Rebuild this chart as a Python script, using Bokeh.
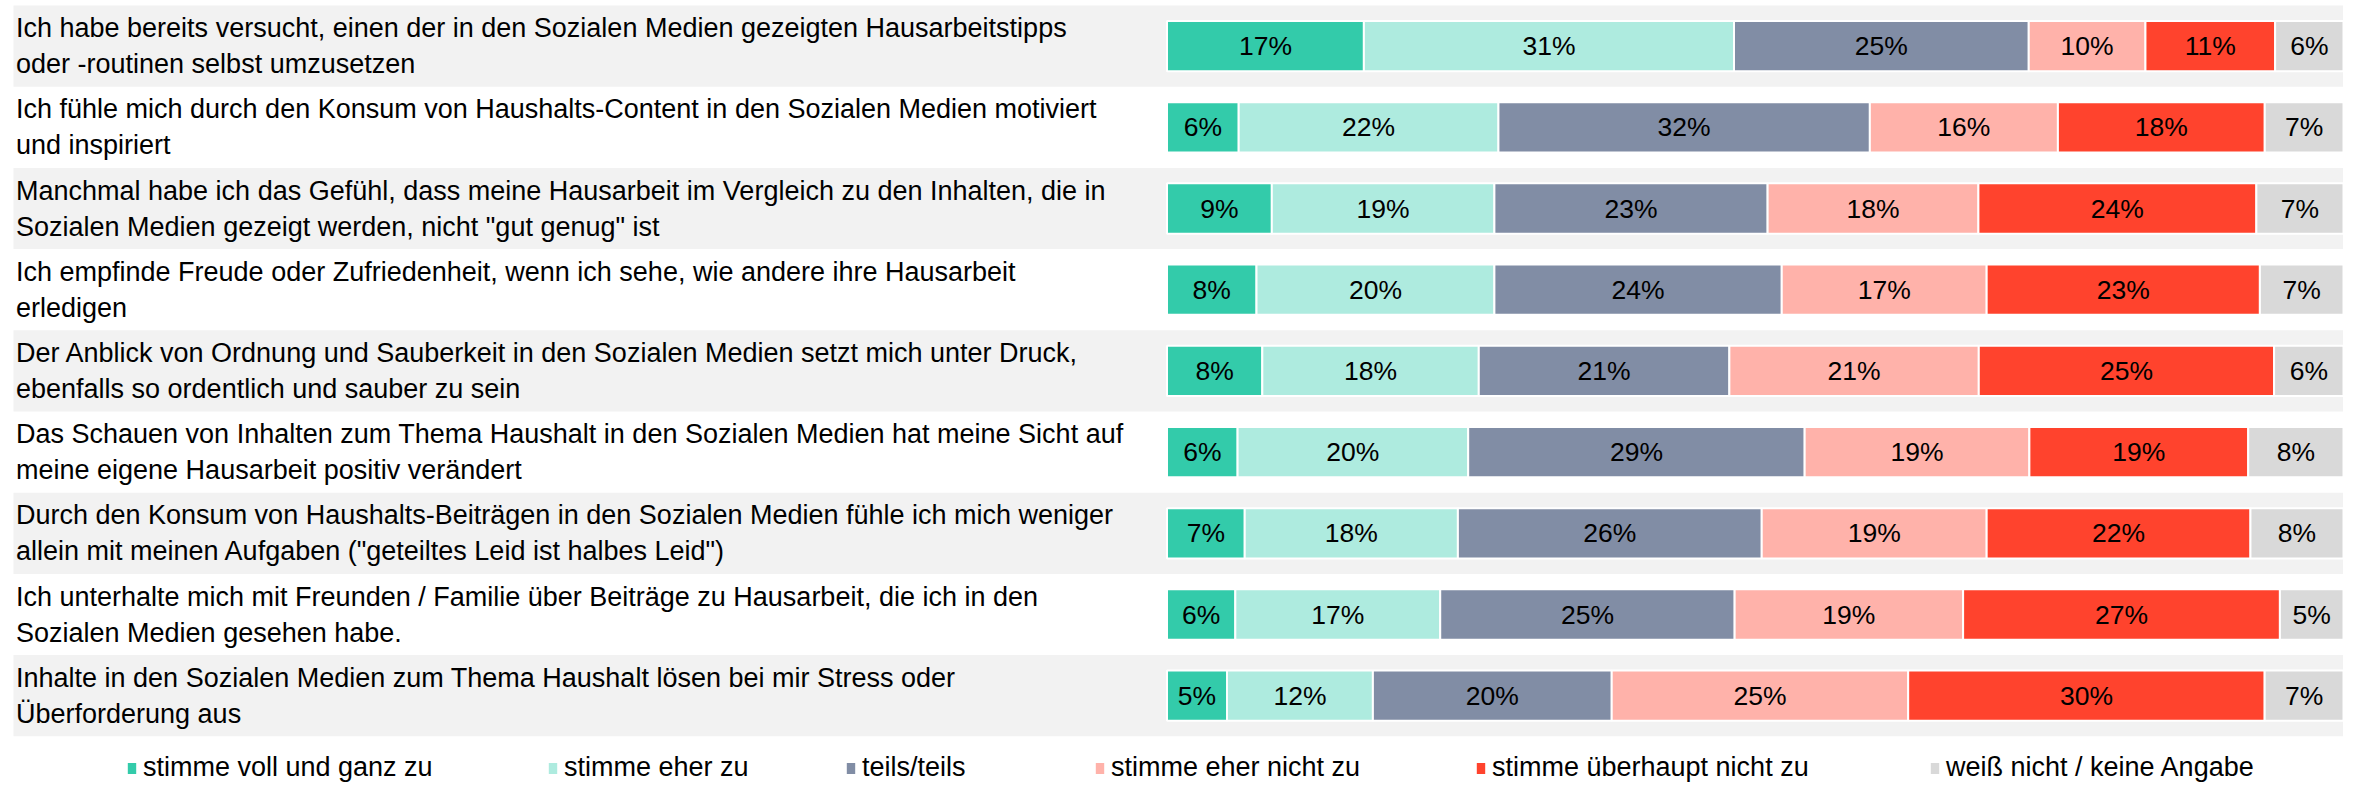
from bokeh.plotting import figure
from bokeh.models import Range1d, ColumnDataSource, Legend, LegendItem
from bokeh.embed import file_html
from bokeh.resources import INLINE
from bokeh.core.properties import value

statements = [
    "Ich habe bereits versucht, einen der in den Sozialen Medien gezeigten Hausarbeitstipps\noder -routinen selbst umzusetzen",
    "Ich fühle mich durch den Konsum von Haushalts-Content in den Sozialen Medien motiviert\nund inspiriert",
    "Manchmal habe ich das Gefühl, dass meine Hausarbeit im Vergleich zu den Inhalten, die in\nSozialen Medien gezeigt werden, nicht \"gut genug\" ist",
    "Ich empfinde Freude oder Zufriedenheit, wenn ich sehe, wie andere ihre Hausarbeit\nerledigen",
    "Der Anblick von Ordnung und Sauberkeit in den Sozialen Medien setzt mich unter Druck,\nebenfalls so ordentlich und sauber zu sein",
    "Das Schauen von Inhalten zum Thema Haushalt in den Sozialen Medien hat meine Sicht auf\nmeine eigene Hausarbeit positiv verändert",
    "Durch den Konsum von Haushalts-Beiträgen in den Sozialen Medien fühle ich mich weniger\nallein mit meinen Aufgaben (\"geteiltes Leid ist halbes Leid\")",
    "Ich unterhalte mich mit Freunden / Familie über Beiträge zu Hausarbeit, die ich in den\nSozialen Medien gesehen habe.",
    "Inhalte in den Sozialen Medien zum Thema Haushalt lösen bei mir Stress oder\nÜberforderung aus",
]

categories = [
    "stimme voll und ganz zu",
    "stimme eher zu",
    "teils/teils",
    "stimme eher nicht zu",
    "stimme überhaupt nicht zu",
    "weiß nicht / keine Angabe",
]
colors = ["#33CBAA", "#AEEBDF", "#818DA5", "#FFB2AA", "#FF432D", "#D9D9D9"]

# shares in percent, one value per statement (top to bottom)
voll = [16.7, 6.1, 8.9, 7.6, 8.1, 6.0, 6.6, 5.8, 5.1]
eher = [31.4, 22.1, 18.9, 20.2, 18.4, 19.6, 18.1, 17.4, 12.4]
teils = [25.0, 31.6, 23.2, 24.4, 21.3, 28.6, 25.8, 25.0, 20.3]
eher_nicht = [9.9, 16.0, 17.9, 17.4, 21.2, 19.1, 19.1, 19.4, 25.2]
ueberhaupt_nicht = [11.0, 17.6, 23.6, 23.2, 25.1, 18.6, 22.4, 26.9, 30.3]
weiss_nicht = [5.8, 6.7, 7.4, 7.1, 5.9, 8.1, 7.9, 5.4, 6.7]

series = [voll, eher, teils, eher_nicht, ueberhaupt_nicht, weiss_nicht]

# ---- layout parameters (pixels) ----
W, H = 2343, 782
BAR_LEFT_PX = 1166.5         # where 0 % sits
BAR_RIGHT_PX = 2343.0        # where 100 % sits
PX_PER_PCT = (BAR_RIGHT_PX - BAR_LEFT_PX) / 100.0
TOP_PX = 5.0                 # top of first row band
ROW_PX = 81.2                # row pitch
FONT = "Liberation Sans"
LABEL_SIZE = "27px"
PCT_SIZE = "26.5px"

x0 = -BAR_LEFT_PX / PX_PER_PCT
x1 = (W - BAR_LEFT_PX) / PX_PER_PCT
y_top = -0.5 - TOP_PX / ROW_PX
y_bot = y_top + H / ROW_PX

p = figure(width=W, height=H, output_backend="svg", toolbar_location=None,
           x_range=Range1d(x0, x1), y_range=Range1d(y_bot, y_top),
           min_border=0, min_border_left=0, min_border_right=0,
           min_border_top=0, min_border_bottom=0)
p.axis.visible = False
p.grid.visible = False
p.outline_line_color = None
p.background_fill_color = "white"
p.border_fill_color = "white"

n = len(statements)
rows = list(range(n))

# alternating row bands
band_left = (13 - BAR_LEFT_PX) / PX_PER_PCT
band_rows = [i for i in rows if i % 2 == 0]
p.hbar(y=band_rows, left=band_left, right=100, height=1.0,
       fill_color="#F2F2F2", line_color=None)

# statement labels
label_x = (15.5 - BAR_LEFT_PX) / PX_PER_PCT
p.text(x=[label_x] * n, y=rows, text=statements, text_align="left",
       text_baseline="middle", text_font=value(FONT), text_font_size=LABEL_SIZE,
       text_color="black", text_line_height=1.2)

# stacked bars normalised to 100 %
totals = [sum(s[i] for s in series) for i in rows]
cum = [0.0] * n
renderers = []
for j, s in enumerate(series):
    left = list(cum)
    right = [cum[i] + s[i] / totals[i] * 100 for i in rows]
    cum = right
    src = ColumnDataSource(dict(
        y=rows, left=left, right=right,
        mid=[(a + b) / 2 for a, b in zip(left, right)],
        lab=[f"{int(v + 0.5)}%" for v in s],
    ))
    r = p.hbar(y="y", left="left", right="right", height=0.62, source=src,
               fill_color=colors[j], line_color="white", line_width=2)
    renderers.append(r)
    p.text(x="mid", y="y", text="lab", source=src, text_align="center",
           text_baseline="middle", text_font=value(FONT),
           text_font_size=PCT_SIZE, text_color="black")

# legend: one entry per category, positioned along the bottom
legend_x = [125, 546, 844, 1093, 1474, 1928]
for j, r in enumerate(renderers):
    lg = Legend(items=[LegendItem(label=categories[j], renderers=[r])],
                location=(legend_x[j], -1), orientation="horizontal",
                background_fill_alpha=0, border_line_alpha=0,
                padding=0, margin=0, spacing=0,
                glyph_width=13, glyph_height=16, label_standoff=5,
                label_text_font=FONT, label_text_font_size=LABEL_SIZE,
                label_text_color="black", label_height=20)
    p.add_layout(lg, "center")

open("out.html", "w").write(file_html(p, INLINE))
